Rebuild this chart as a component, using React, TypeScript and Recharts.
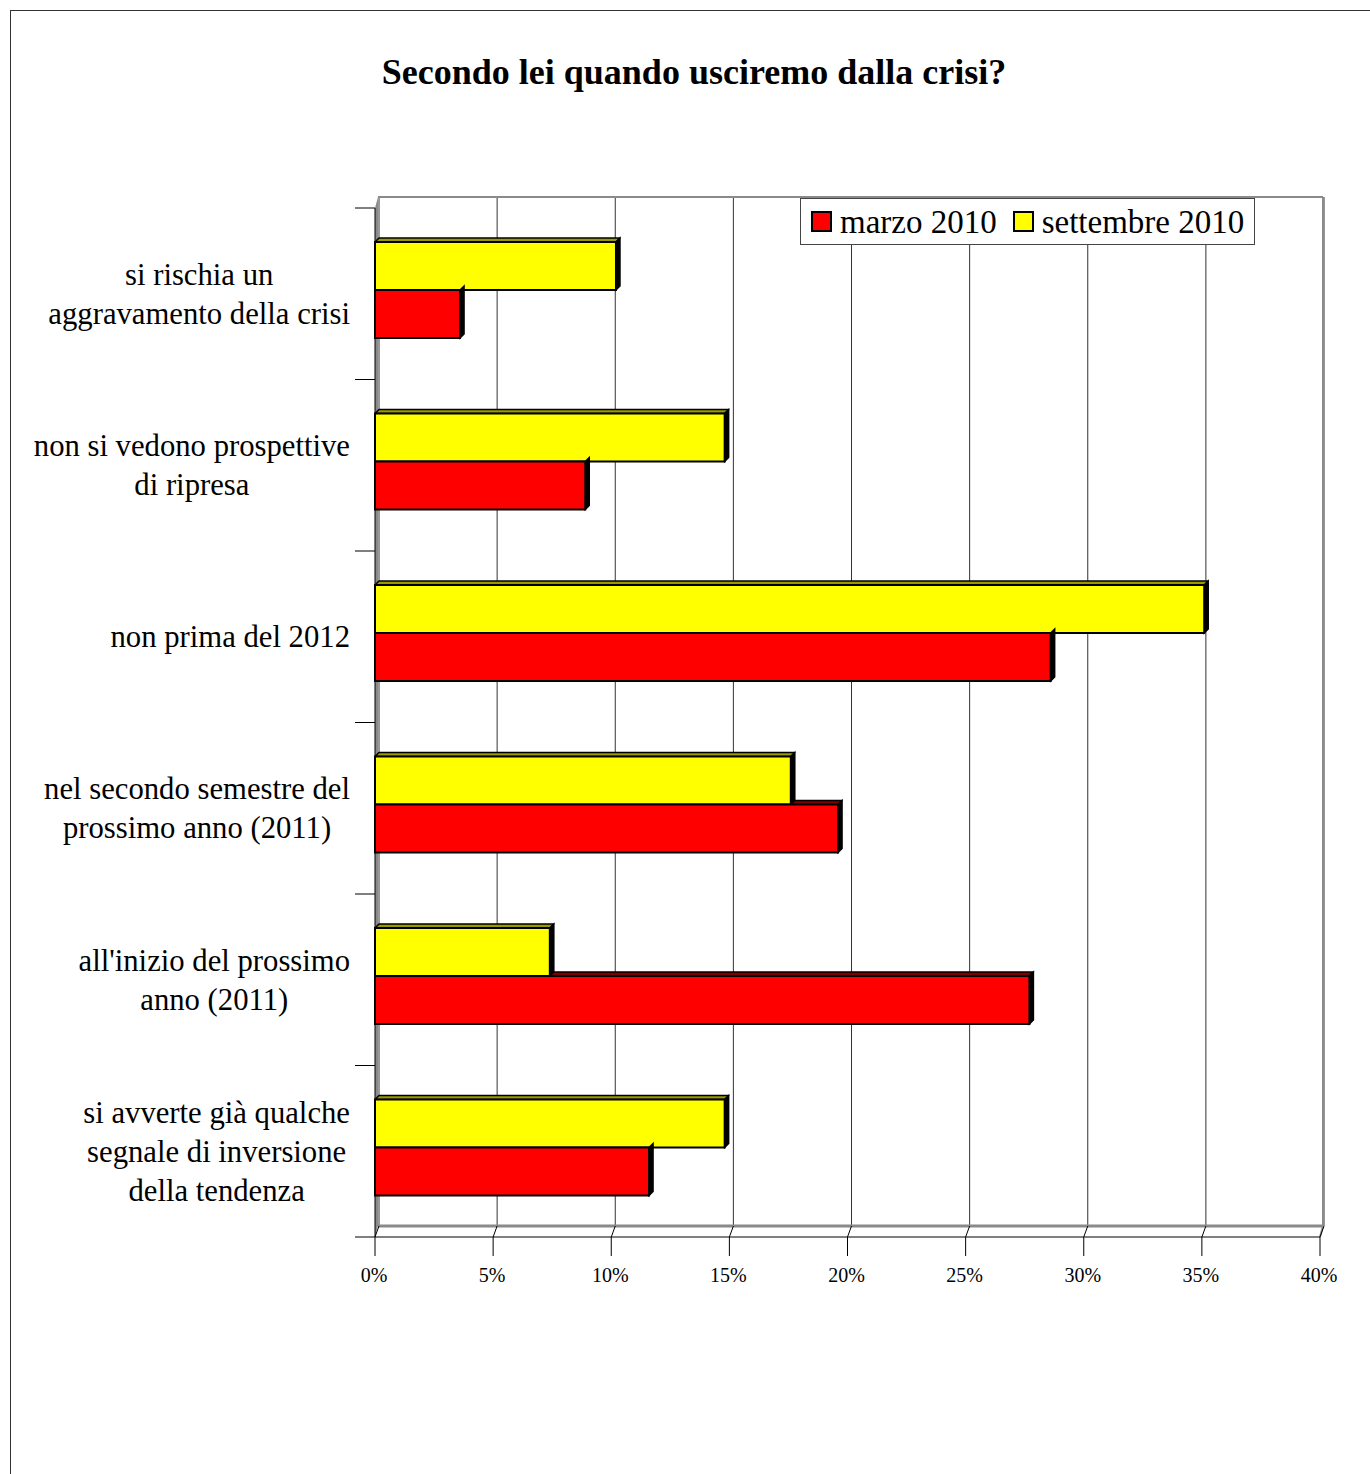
import { BarChart, Bar, XAxis, YAxis, CartesianGrid, Legend, Customized } from "recharts";

// categories, top to bottom (line breaks as in the original labels)
const CATEGORIES = [
  "si rischia un\naggravamento della crisi",
  "non si vedono prospettive\ndi ripresa",
  "non prima del 2012",
  "nel secondo semestre del\nprossimo anno (2011)",
  "all'inizio del prossimo\nanno (2011)",
  "si avverte già qualche\nsegnale di inversione\ndella tendenza",
];

const MARZO_2010 = [3.6, 8.9, 28.6, 19.6, 27.7, 11.6];
const SETTEMBRE_2010 = [10.2, 14.8, 35.1, 17.6, 7.4, 14.8];

const X_TICKS = [0, 5, 10, 15, 20, 25, 30, 35, 40];

const TITLE = "Secondo lei quando usciremo dalla crisi?";

const SERIES = [
  { key: "marzo", name: "marzo 2010", color: "#ff0000", top: "#800000" },
  { key: "settembre", name: "settembre 2010", color: "#ffff00", top: "#999900" },
];

const rows = CATEGORIES.map((name, i) => ({
  name,
  marzo: MARZO_2010[i],
  settembre: SETTEMBRE_2010[i],
}));

const FONT = "'Liberation Serif', 'Times New Roman', serif";

// plot frame (front plane) and 3D depth
const PLOT_LEFT = 375;
const PLOT_RIGHT = 1320;
const PLOT_TOP = 208;
const PLOT_BOTTOM = 1237;
const WALL_DX = 3;
const WALL_DY = 11;
const BAR_DX = 4;
const BAR_DY = 4;
const BAND = (PLOT_BOTTOM - PLOT_TOP) / CATEGORIES.length;
const LABEL_FONT = 30.7;
const LINE_H = 39;

let ctx: CanvasRenderingContext2D | null = null;
function measure(text: string, size: number) {
  if (!ctx) ctx = document.createElement("canvas").getContext("2d");
  if (!ctx) return text.length * size * 0.45;
  ctx.font = `${size}px ${FONT}`;
  return ctx.measureText(text).width;
}

function CategoryTick(props: any) {
  const { y, payload, index } = props;
  const lines: string[] = String(payload.value).split("\n");
  const maxW = Math.max(...lines.map((l) => measure(l, LABEL_FONT)));
  const cx = 350 - maxW / 2;
  const y0 = y - ((lines.length - 1) * LINE_H) / 2;
  return (
    <g>
      <line x1={355} x2={PLOT_LEFT} y1={y - BAND / 2} y2={y - BAND / 2} stroke="#000" />
      {index === CATEGORIES.length - 1 && (
        <line x1={355} x2={PLOT_LEFT} y1={y + BAND / 2} y2={y + BAND / 2} stroke="#000" />
      )}
      <text x={cx} y={y0} textAnchor="middle" fontSize={LABEL_FONT} fontFamily={FONT} fill="#000">
        {lines.map((l, i) => (
          <tspan key={i} x={cx} y={y0 + i * LINE_H} dy="0.35em">
            {l}
          </tspan>
        ))}
      </text>
    </g>
  );
}

function PctTick(props: any) {
  const { x, payload } = props;
  return (
    <g>
      <line x1={x} x2={x} y1={PLOT_BOTTOM} y2={PLOT_BOTTOM + 19} stroke="#000" />
      <line x1={x} x2={x + WALL_DX + 1} y1={PLOT_BOTTOM} y2={PLOT_BOTTOM - WALL_DY} stroke="#000" />
      <text x={x - 1} y={PLOT_BOTTOM + 45} textAnchor="middle" fontSize={20} fontFamily={FONT} fill="#000">
        {payload.value}%
      </text>
    </g>
  );
}

function BackGridLine(props: any) {
  const { x1, x2, y1, y2 } = props;
  return (
    <line
      key={props.key}
      x1={x1 + WALL_DX + 1}
      x2={x2 + WALL_DX + 1}
      y1={Math.min(y1, y2) - WALL_DY}
      y2={Math.max(y1, y2) - WALL_DY}
      stroke="#333"
      strokeWidth={1}
    />
  );
}

function Decor() {
  const bx0 = PLOT_LEFT + WALL_DX;
  const bx1 = PLOT_RIGHT + WALL_DX;
  const by0 = PLOT_TOP - WALL_DY;
  const by1 = PLOT_BOTTOM - WALL_DY;
  return (
    <g>
      <text x={694} y={84} textAnchor="middle" fontSize={36} fontWeight="bold" fontFamily={FONT} fill="#000">
        {TITLE}
      </text>
      <polygon
        points={`${PLOT_LEFT},${PLOT_TOP} ${bx0},${by0} ${bx0},${by1} ${PLOT_LEFT},${PLOT_BOTTOM}`}
        fill="#8a8a8a"
      />
      <line x1={bx0} x2={bx1} y1={by0} y2={by0} stroke="#8a8a8a" strokeWidth={2} />
      <line x1={bx1} x2={bx1} y1={by0} y2={by1} stroke="#8a8a8a" strokeWidth={2} />
      <line x1={bx0} x2={bx1} y1={by1} y2={by1} stroke="#8a8a8a" strokeWidth={3} />
      <line x1={bx1} x2={PLOT_RIGHT} y1={by1} y2={PLOT_BOTTOM} stroke="#8a8a8a" strokeWidth={2} />
    </g>
  );
}

// 3D bar: front face, top face, dark right side
function makeBar(topColor: string, behindKey?: string) {
  return (props: any) => {
    const { x, y, width, height, fill, payload, value } = props;
    if (!width || width <= 0) return <g />;
    const yy = y - 4;
    const x1 = x + width;
    let xs = x;
    if (behindKey) {
      // part of the top face hidden by the bar drawn above it
      const v = Array.isArray(value) ? value[1] - value[0] : value;
      const ppu = width / v;
      xs = Math.max(x, x + payload[behindKey] * ppu);
    }
    return (
      <g>
        {x1 > xs && (
          <polygon
            points={`${xs},${yy} ${xs + BAR_DX},${yy - BAR_DY} ${x1 + BAR_DX},${yy - BAR_DY} ${x1},${yy}`}
            fill={topColor}
            stroke="#000"
            strokeWidth={1.5}
            strokeLinejoin="round"
          />
        )}
        <polygon
          points={`${x1},${yy} ${x1 + BAR_DX},${yy - BAR_DY} ${x1 + BAR_DX},${yy + height - BAR_DY} ${x1},${yy + height}`}
          fill="#000"
          stroke="#000"
          strokeWidth={1.5}
        />
        <rect x={x} y={yy} width={width} height={height} fill={fill} stroke="#000" strokeWidth={2} />
      </g>
    );
  };
}

function LegendBox() {
  return (
    <div
      style={{
        display: "flex",
        alignItems: "center",
        border: "1px solid #444",
        background: "#fff",
        height: 47,
        padding: "0 10px 0 10px",
        fontFamily: FONT,
        fontSize: 33,
        color: "#000",
        boxSizing: "border-box",
        whiteSpace: "nowrap",
      }}
    >
      {SERIES.map((s, i) => (
        <span key={s.key} style={{ display: "flex", alignItems: "center", marginLeft: i === 0 ? 0 : 16 }}>
          <span
            style={{
              display: "inline-block",
              width: 17,
              height: 17,
              background: s.color,
              border: "2px solid #000",
              marginRight: 8,
            }}
          />
          <span style={{ lineHeight: "44px" }}>{s.name}</span>
        </span>
      ))}
    </div>
  );
}

export default function App() {
  const yel = SERIES[1];
  const red = SERIES[0];
  return (
    <div
      style={{
        position: "absolute",
        left: 0,
        top: 0,
        width: 1370,
        height: 1474,
        overflow: "hidden",
        background: "#fff",
      }}
    >
      <div
        style={{
          position: "absolute",
          left: 10,
          top: 10,
          width: 1400,
          height: 1500,
          border: "1px solid #333",
        }}
      />
      <div style={{ position: "absolute", left: 0, top: 0 }}>
        <BarChart
          width={1370}
          height={1474}
          data={rows}
          layout="vertical"
          margin={{ top: PLOT_TOP, right: 1370 - PLOT_RIGHT, bottom: 1474 - PLOT_BOTTOM - 60, left: PLOT_LEFT - 355 }}
          barGap={0}
          barSize={48}
        >
          <Customized component={Decor} />
          <CartesianGrid horizontal={false} vertical={BackGridLine} stroke="#333" />
          <XAxis
            type="number"
            domain={[0, 40]}
            ticks={X_TICKS}
            height={60}
            axisLine={{ stroke: "#000", strokeWidth: 1 }}
            tickLine={false}
            tick={PctTick}
            interval={0}
          />
          <YAxis
            type="category"
            dataKey="name"
            width={355}
            axisLine={{ stroke: "#000", strokeWidth: 1 }}
            tickLine={false}
            tick={CategoryTick}
            interval={0}
          />
          <Legend
            layout="horizontal"
            verticalAlign="middle"
            align="center"
            wrapperStyle={{ left: 800, top: 198, width: "auto", height: "auto" }}
            content={() => <LegendBox />}
          />
          <Bar
            dataKey={yel.key}
            name={yel.name}
            fill={yel.color}
            isAnimationActive={false}
            shape={makeBar(yel.top)}
          />
          <Bar
            dataKey={red.key}
            name={red.name}
            fill={red.color}
            isAnimationActive={false}
            shape={makeBar(red.top, yel.key)}
          />
        </BarChart>
      </div>
    </div>
  );
}
